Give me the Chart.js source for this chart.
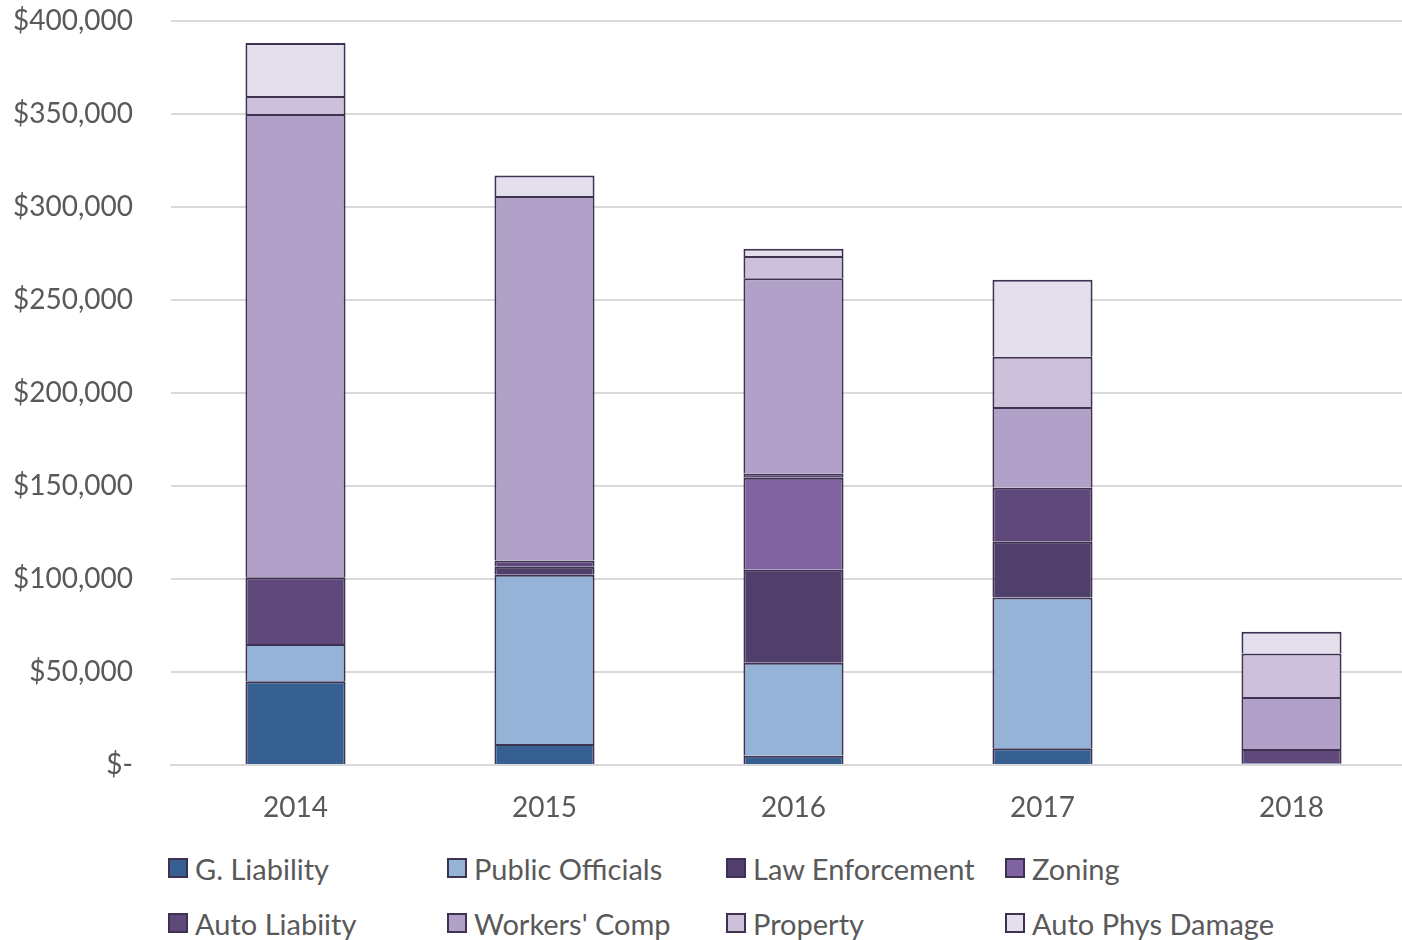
<!DOCTYPE html>
<html>
<head>
<meta charset="utf-8">
<script src="https://cdn.jsdelivr.net/npm/chart.js@4"></script>
<style>
  body { margin: 0; background: #fff; }
  #wrap { position: relative; width: 1402px; height: 940px; overflow: hidden; }
  #chart { position: absolute; left: 0; top: 0; }
  #legend {
    position: absolute; left: 168px; top: 847px;
    display: grid; grid-template-columns: repeat(4, 279px); row-gap: 13px;
    font-family: Lato, sans-serif; font-size: 29px; color: #595959;
  }
  .item { display: flex; align-items: center; height: 42px; white-space: nowrap; }
  .box { width: 16px; height: 16px; border: 2px solid #3F3151; margin-right: 7px; }
</style>
</head>
<body>
<div id="wrap">
  <canvas id="chart" width="1416" height="840"></canvas>
  <div id="legend"></div>
</div>
<script>
const years = ['2014', '2015', '2016', '2017', '2018'];

const gLiability = [45000, 11300, 5000, 9000, 1000];
const publicOfficials = [20000, 91000, 50000, 81000, 0];
const lawEnforcement = [0, 4300, 50000, 30000, 0];
const zoning = [0, 0, 49500, 0, 0];
const autoLiability = [36000, 3300, 2200, 29000, 7600];
const workersComp = [249000, 196000, 105000, 43500, 28000];
const property = [9700, 0, 12000, 27000, 23300];
const autoPhysDamage = [28500, 11000, 3800, 41400, 11800];

const seriesNames = ['G. Liability', 'Public Officials', 'Law Enforcement', 'Zoning',
  'Auto Liabiity', "Workers' Comp", 'Property', 'Auto Phys Damage'];
const seriesData = [gLiability, publicOfficials, lawEnforcement, zoning,
  autoLiability, workersComp, property, autoPhysDamage];
const colors = ['#376092', '#95B3D7', '#513F6B', '#8064A2', '#5F497A', '#B1A0C7', '#CCC0DA', '#E4DFEC'];

const ctx = document.getElementById('chart').getContext('2d');

function money(v) {
  if (v === 0) return '$-';
  return '$' + v.toLocaleString('en-US');
}

const chart = new Chart(ctx, {
  type: 'bar',
  data: {
    labels: years,
    datasets: seriesNames.map((name, i) => ({
      label: name,
      data: seriesData[i],
      backgroundColor: colors[i],
      borderColor: '#3F3151',
      borderWidth: 2,
      categoryPercentage: 1,
      barPercentage: 0.402
    }))
  },
  options: {
    responsive: false,
    animation: false,
    layout: { padding: 0 },
    plugins: { legend: { display: false }, tooltip: { enabled: false } },
    scales: {
      x: {
        stacked: true,
        grid: { display: false, drawTicks: false },
        border: { color: '#D9D9D9', width: 2 },
        ticks: { color: '#595959', font: { family: 'Lato', size: 28 }, padding: 26 },
        afterFit: s => { s.height = 75; }
      },
      y: {
        stacked: true,
        min: 0,
        max: 400000,
        grid: { color: '#D9D9D9', lineWidth: 2, drawTicks: false },
        border: { display: false },
        ticks: {
          stepSize: 50000,
          color: '#595959',
          font: { family: 'Lato', size: 28 },
          padding: 38,
          callback: v => money(v)
        },
        afterFit: s => { s.width = 171; s.paddingTop = 21; s.paddingBottom = 0; }
      }
    }
  }
});

// Legend
const legend = document.getElementById('legend');
seriesNames.forEach((name, i) => {
  const item = document.createElement('div');
  item.className = 'item';
  item.innerHTML = '<span class="box" style="background:' + colors[i] + '"></span>' + name;
  legend.appendChild(item);
});
</script>
</body>
</html>
